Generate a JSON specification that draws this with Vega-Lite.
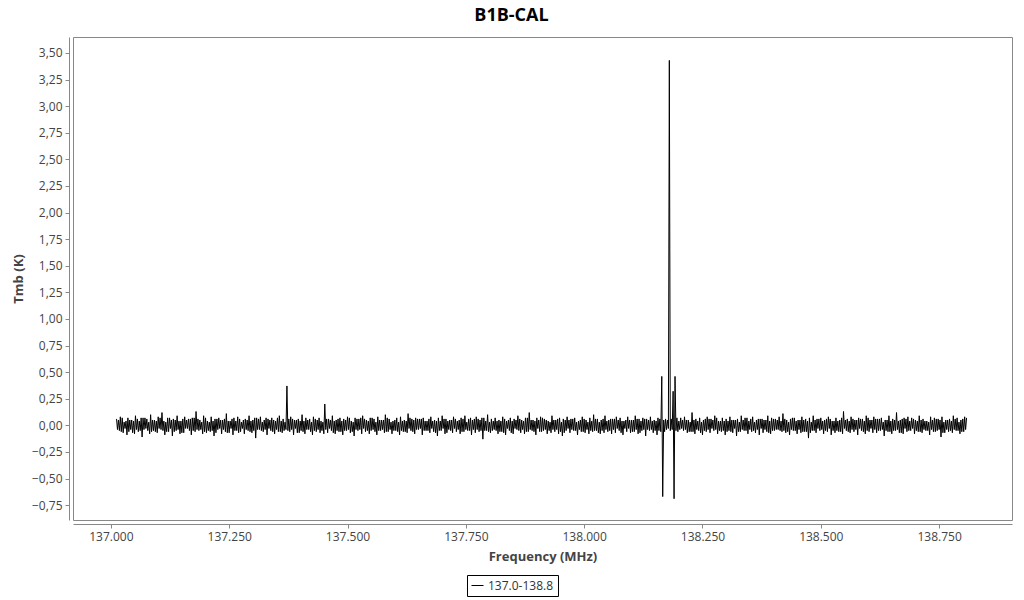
{
"$schema": "https://vega.github.io/schema/vega-lite/v6.json",
"width": 939, "height": 483,
"autosize": {"type": "none"},
"padding": {"left": 73, "top": 37, "right": 12, "bottom": 80},
"background": "white",
"title": {"text": "B1B-CAL", "fontSize": 18, "fontWeight": "bold", "font": "Open Sans", "color": "#000000", "dx": -31, "offset": 12},
"data": {"values": [
{"f":137.012,"t":0.06},{"f":137.014,"t":-0.04},{"f":137.016,"t":0.05},{"f":137.018,"t":-0.05},{"f":137.020,"t":0.08},{"f":137.022,"t":-0.06},{"f":137.024,"t":0.07},{"f":137.026,"t":-0.07},{"f":137.028,"t":0.03},{"f":137.030,"t":-0.03},{"f":137.032,"t":0.04},{"f":137.034,"t":-0.09},{"f":137.036,"t":0.07},{"f":137.038,"t":-0.06},{"f":137.040,"t":0.05},{"f":137.042,"t":-0.04},{"f":137.044,"t":0.05},{"f":137.046,"t":-0.07},{"f":137.048,"t":0.04},{"f":137.050,"t":-0.08},
{"f":137.052,"t":0.09},{"f":137.054,"t":-0.04},{"f":137.056,"t":0.06},{"f":137.058,"t":-0.06},{"f":137.060,"t":0.04},{"f":137.062,"t":-0.05},{"f":137.064,"t":0.07},{"f":137.066,"t":-0.11},{"f":137.068,"t":0.07},{"f":137.070,"t":-0.04},{"f":137.072,"t":0.07},{"f":137.074,"t":-0.03},{"f":137.076,"t":0.06},{"f":137.078,"t":-0.05},{"f":137.080,"t":0.03},{"f":137.082,"t":-0.08},{"f":137.084,"t":0.10},{"f":137.086,"t":-0.06},{"f":137.088,"t":0.05},{"f":137.090,"t":-0.05},
{"f":137.092,"t":0.05},{"f":137.094,"t":-0.06},{"f":137.096,"t":0.04},{"f":137.098,"t":-0.07},{"f":137.100,"t":0.08},{"f":137.102,"t":-0.03},{"f":137.104,"t":0.07},{"f":137.106,"t":-0.04},{"f":137.108,"t":0.12},{"f":137.110,"t":-0.05},{"f":137.112,"t":0.04},{"f":137.114,"t":-0.09},{"f":137.116,"t":0.03},{"f":137.118,"t":-0.06},{"f":137.120,"t":0.07},{"f":137.122,"t":-0.06},{"f":137.124,"t":0.07},{"f":137.126,"t":-0.03},{"f":137.128,"t":0.05},{"f":137.130,"t":-0.10},
{"f":137.132,"t":0.06},{"f":137.134,"t":-0.06},{"f":137.136,"t":0.05},{"f":137.138,"t":-0.05},{"f":137.140,"t":0.09},{"f":137.142,"t":-0.04},{"f":137.144,"t":0.04},{"f":137.146,"t":-0.08},{"f":137.148,"t":0.04},{"f":137.150,"t":-0.07},{"f":137.152,"t":0.06},{"f":137.154,"t":-0.07},{"f":137.156,"t":0.08},{"f":137.158,"t":-0.03},{"f":137.160,"t":0.05},{"f":137.162,"t":-0.03},{"f":137.164,"t":0.06},{"f":137.166,"t":-0.05},{"f":137.168,"t":0.06},{"f":137.170,"t":-0.09},
{"f":137.172,"t":0.07},{"f":137.174,"t":-0.05},{"f":137.176,"t":0.07},{"f":137.178,"t":-0.06},{"f":137.180,"t":0.13},{"f":137.182,"t":-0.04},{"f":137.184,"t":0.06},{"f":137.186,"t":-0.05},{"f":137.188,"t":0.05},{"f":137.190,"t":-0.04},{"f":137.192,"t":0.03},{"f":137.194,"t":-0.08},{"f":137.196,"t":0.09},{"f":137.198,"t":-0.06},{"f":137.200,"t":0.07},{"f":137.202,"t":-0.07},{"f":137.204,"t":0.04},{"f":137.206,"t":-0.05},{"f":137.208,"t":0.03},{"f":137.210,"t":-0.06},
{"f":137.212,"t":0.08},{"f":137.214,"t":-0.05},{"f":137.216,"t":0.04},{"f":137.218,"t":-0.10},{"f":137.220,"t":0.06},{"f":137.222,"t":-0.07},{"f":137.224,"t":0.06},{"f":137.226,"t":-0.04},{"f":137.228,"t":0.07},{"f":137.230,"t":-0.03},{"f":137.232,"t":0.05},{"f":137.234,"t":-0.08},{"f":137.236,"t":0.05},{"f":137.238,"t":-0.04},{"f":137.240,"t":0.06},{"f":137.242,"t":-0.06},{"f":137.244,"t":0.11},{"f":137.246,"t":-0.07},{"f":137.248,"t":0.04},{"f":137.250,"t":-0.07},
{"f":137.252,"t":0.04},{"f":137.254,"t":-0.03},{"f":137.256,"t":0.06},{"f":137.258,"t":-0.09},{"f":137.260,"t":0.07},{"f":137.262,"t":-0.05},{"f":137.264,"t":0.04},{"f":137.266,"t":-0.05},{"f":137.268,"t":0.08},{"f":137.270,"t":-0.07},{"f":137.272,"t":0.06},{"f":137.274,"t":-0.06},{"f":137.276,"t":0.03},{"f":137.278,"t":-0.03},{"f":137.280,"t":0.05},{"f":137.282,"t":-0.08},{"f":137.284,"t":0.06},{"f":137.286,"t":-0.04},{"f":137.288,"t":0.05},{"f":137.290,"t":-0.05},
{"f":137.292,"t":0.09},{"f":137.294,"t":-0.06},{"f":137.296,"t":0.04},{"f":137.298,"t":-0.07},{"f":137.300,"t":0.05},{"f":137.302,"t":-0.05},{"f":137.304,"t":0.07},{"f":137.306,"t":-0.12},{"f":137.308,"t":0.07},{"f":137.310,"t":-0.04},{"f":137.312,"t":0.06},{"f":137.314,"t":-0.04},{"f":137.316,"t":0.08},{"f":137.318,"t":-0.05},{"f":137.320,"t":0.03},{"f":137.322,"t":-0.06},{"f":137.324,"t":0.05},{"f":137.326,"t":-0.04},{"f":137.328,"t":0.07},{"f":137.330,"t":-0.09},
{"f":137.332,"t":0.06},{"f":137.334,"t":-0.03},{"f":137.336,"t":0.05},{"f":137.338,"t":-0.05},{"f":137.340,"t":0.07},{"f":137.342,"t":-0.06},{"f":137.344,"t":0.05},{"f":137.346,"t":-0.08},{"f":137.348,"t":0.04},{"f":137.350,"t":-0.04},{"f":137.352,"t":0.07},{"f":137.354,"t":-0.06},{"f":137.356,"t":0.09},{"f":137.358,"t":-0.06},{"f":137.360,"t":0.04},{"f":137.362,"t":-0.07},{"f":137.364,"t":0.06},{"f":137.366,"t":-0.05},{"f":137.368,"t":0.03},{"f":137.370,"t":-0.04},
{"f":137.372,"t":0.37},{"f":137.374,"t":-0.05},{"f":137.376,"t":0.06},{"f":137.378,"t":-0.06},{"f":137.380,"t":0.08},{"f":137.382,"t":-0.04},{"f":137.384,"t":0.06},{"f":137.386,"t":-0.09},{"f":137.388,"t":0.05},{"f":137.390,"t":-0.03},{"f":137.392,"t":0.05},{"f":137.394,"t":-0.07},{"f":137.396,"t":0.06},{"f":137.398,"t":-0.07},{"f":137.400,"t":0.04},{"f":137.402,"t":-0.05},{"f":137.404,"t":0.10},{"f":137.406,"t":-0.06},{"f":137.408,"t":0.04},{"f":137.410,"t":-0.08},
{"f":137.412,"t":0.07},{"f":137.414,"t":-0.04},{"f":137.416,"t":0.05},{"f":137.418,"t":-0.04},{"f":137.420,"t":0.06},{"f":137.422,"t":-0.06},{"f":137.424,"t":0.03},{"f":137.426,"t":-0.09},{"f":137.428,"t":0.08},{"f":137.430,"t":-0.05},{"f":137.432,"t":0.06},{"f":137.434,"t":-0.06},{"f":137.436,"t":0.05},{"f":137.438,"t":-0.04},{"f":137.440,"t":0.07},{"f":137.442,"t":-0.07},{"f":137.444,"t":0.04},{"f":137.446,"t":-0.05},{"f":137.448,"t":0.03},{"f":137.450,"t":-0.08},
{"f":137.452,"t":0.20},{"f":137.454,"t":-0.04},{"f":137.456,"t":0.06},{"f":137.458,"t":-0.07},{"f":137.460,"t":0.06},{"f":137.462,"t":-0.03},{"f":137.464,"t":0.05},{"f":137.466,"t":-0.05},{"f":137.468,"t":0.09},{"f":137.470,"t":-0.07},{"f":137.472,"t":0.04},{"f":137.474,"t":-0.08},{"f":137.476,"t":0.05},{"f":137.478,"t":-0.05},{"f":137.480,"t":0.06},{"f":137.482,"t":-0.06},{"f":137.484,"t":0.07},{"f":137.486,"t":-0.06},{"f":137.488,"t":0.04},{"f":137.490,"t":-0.09},
{"f":137.492,"t":0.06},{"f":137.494,"t":-0.05},{"f":137.496,"t":0.05},{"f":137.498,"t":-0.05},{"f":137.500,"t":0.08},{"f":137.502,"t":-0.04},{"f":137.504,"t":0.07},{"f":137.506,"t":-0.07},{"f":137.508,"t":0.04},{"f":137.510,"t":-0.06},{"f":137.512,"t":0.03},{"f":137.514,"t":-0.10},{"f":137.516,"t":0.07},{"f":137.518,"t":-0.04},{"f":137.520,"t":0.06},{"f":137.522,"t":-0.05},{"f":137.524,"t":0.06},{"f":137.526,"t":-0.04},{"f":137.528,"t":0.07},{"f":137.530,"t":-0.08},
{"f":137.532,"t":0.09},{"f":137.534,"t":-0.03},{"f":137.536,"t":0.06},{"f":137.538,"t":-0.06},{"f":137.540,"t":0.05},{"f":137.542,"t":-0.05},{"f":137.544,"t":0.04},{"f":137.546,"t":-0.08},{"f":137.548,"t":0.07},{"f":137.550,"t":-0.05},{"f":137.552,"t":0.07},{"f":137.554,"t":-0.04},{"f":137.556,"t":0.06},{"f":137.558,"t":-0.06},{"f":137.560,"t":0.03},{"f":137.562,"t":-0.09},{"f":137.564,"t":0.08},{"f":137.566,"t":-0.05},{"f":137.568,"t":0.05},{"f":137.570,"t":-0.05},
{"f":137.572,"t":0.05},{"f":137.574,"t":-0.04},{"f":137.576,"t":0.05},{"f":137.578,"t":-0.07},{"f":137.580,"t":0.10},{"f":137.582,"t":-0.06},{"f":137.584,"t":0.07},{"f":137.586,"t":-0.06},{"f":137.588,"t":0.06},{"f":137.590,"t":-0.04},{"f":137.592,"t":0.03},{"f":137.594,"t":-0.08},{"f":137.596,"t":0.04},{"f":137.598,"t":-0.05},{"f":137.600,"t":0.05},{"f":137.602,"t":-0.05},{"f":137.604,"t":0.07},{"f":137.606,"t":-0.06},{"f":137.608,"t":0.03},{"f":137.610,"t":-0.09},
{"f":137.612,"t":0.08},{"f":137.614,"t":-0.05},{"f":137.616,"t":0.04},{"f":137.618,"t":-0.06},{"f":137.620,"t":0.05},{"f":137.622,"t":-0.06},{"f":137.624,"t":0.04},{"f":137.626,"t":-0.07},{"f":137.628,"t":0.11},{"f":137.630,"t":-0.03},{"f":137.632,"t":0.07},{"f":137.634,"t":-0.05},{"f":137.636,"t":0.06},{"f":137.638,"t":-0.06},{"f":137.640,"t":0.05},{"f":137.642,"t":-0.08},{"f":137.644,"t":0.07},{"f":137.646,"t":-0.04},{"f":137.648,"t":0.06},{"f":137.650,"t":-0.04},
{"f":137.652,"t":0.06},{"f":137.654,"t":-0.03},{"f":137.656,"t":0.06},{"f":137.658,"t":-0.09},{"f":137.660,"t":0.07},{"f":137.662,"t":-0.05},{"f":137.664,"t":0.04},{"f":137.666,"t":-0.05},{"f":137.668,"t":0.04},{"f":137.670,"t":-0.05},{"f":137.672,"t":0.06},{"f":137.674,"t":-0.07},{"f":137.676,"t":0.08},{"f":137.678,"t":-0.03},{"f":137.680,"t":0.04},{"f":137.682,"t":-0.06},{"f":137.684,"t":0.05},{"f":137.686,"t":-0.07},{"f":137.688,"t":0.04},{"f":137.690,"t":-0.10},
{"f":137.692,"t":0.07},{"f":137.694,"t":-0.05},{"f":137.696,"t":0.04},{"f":137.698,"t":-0.05},{"f":137.700,"t":0.09},{"f":137.702,"t":-0.03},{"f":137.704,"t":0.06},{"f":137.706,"t":-0.08},{"f":137.708,"t":0.06},{"f":137.710,"t":-0.07},{"f":137.712,"t":0.04},{"f":137.714,"t":-0.04},{"f":137.716,"t":0.05},{"f":137.718,"t":-0.05},{"f":137.720,"t":0.05},{"f":137.722,"t":-0.07},{"f":137.724,"t":0.08},{"f":137.726,"t":-0.03},{"f":137.728,"t":0.06},{"f":137.730,"t":-0.06},
{"f":137.732,"t":0.04},{"f":137.734,"t":-0.04},{"f":137.736,"t":0.05},{"f":137.738,"t":-0.08},{"f":137.740,"t":0.07},{"f":137.742,"t":-0.06},{"f":137.744,"t":0.06},{"f":137.746,"t":-0.06},{"f":137.748,"t":0.09},{"f":137.750,"t":-0.04},{"f":137.752,"t":0.03},{"f":137.754,"t":-0.05},{"f":137.756,"t":0.06},{"f":137.758,"t":-0.05},{"f":137.760,"t":0.07},{"f":137.762,"t":-0.09},{"f":137.764,"t":0.05},{"f":137.766,"t":-0.04},{"f":137.768,"t":0.06},{"f":137.770,"t":-0.07},
{"f":137.772,"t":0.08},{"f":137.774,"t":-0.04},{"f":137.776,"t":0.06},{"f":137.778,"t":-0.06},{"f":137.780,"t":0.05},{"f":137.782,"t":-0.05},{"f":137.784,"t":0.07},{"f":137.786,"t":-0.13},{"f":137.788,"t":0.07},{"f":137.790,"t":-0.05},{"f":137.792,"t":0.04},{"f":137.794,"t":-0.05},{"f":137.796,"t":0.10},{"f":137.798,"t":-0.06},{"f":137.800,"t":0.03},{"f":137.802,"t":-0.07},{"f":137.804,"t":0.06},{"f":137.806,"t":-0.05},{"f":137.808,"t":0.04},{"f":137.810,"t":-0.04},
{"f":137.812,"t":0.07},{"f":137.814,"t":-0.05},{"f":137.816,"t":0.04},{"f":137.818,"t":-0.08},{"f":137.820,"t":0.05},{"f":137.822,"t":-0.06},{"f":137.824,"t":0.04},{"f":137.826,"t":-0.06},{"f":137.828,"t":0.08},{"f":137.830,"t":-0.07},{"f":137.832,"t":0.06},{"f":137.834,"t":-0.09},{"f":137.836,"t":0.04},{"f":137.838,"t":-0.03},{"f":137.840,"t":0.05},{"f":137.842,"t":-0.05},{"f":137.844,"t":0.07},{"f":137.846,"t":-0.07},{"f":137.848,"t":0.04},{"f":137.850,"t":-0.08},
{"f":137.852,"t":0.06},{"f":137.854,"t":-0.03},{"f":137.856,"t":0.05},{"f":137.858,"t":-0.04},{"f":137.860,"t":0.09},{"f":137.862,"t":-0.05},{"f":137.864,"t":0.06},{"f":137.866,"t":-0.07},{"f":137.868,"t":0.05},{"f":137.870,"t":-0.04},{"f":137.872,"t":0.04},{"f":137.874,"t":-0.08},{"f":137.876,"t":0.07},{"f":137.878,"t":-0.06},{"f":137.880,"t":0.07},{"f":137.882,"t":-0.06},{"f":137.884,"t":0.12},{"f":137.886,"t":-0.04},{"f":137.888,"t":0.05},{"f":137.890,"t":-0.05},
{"f":137.892,"t":0.05},{"f":137.894,"t":-0.06},{"f":137.896,"t":0.04},{"f":137.898,"t":-0.09},{"f":137.900,"t":0.07},{"f":137.902,"t":-0.03},{"f":137.904,"t":0.05},{"f":137.906,"t":-0.06},{"f":137.908,"t":0.08},{"f":137.910,"t":-0.06},{"f":137.912,"t":0.07},{"f":137.914,"t":-0.05},{"f":137.916,"t":0.06},{"f":137.918,"t":-0.04},{"f":137.920,"t":0.05},{"f":137.922,"t":-0.08},{"f":137.924,"t":0.04},{"f":137.926,"t":-0.05},{"f":137.928,"t":0.03},{"f":137.930,"t":-0.07},
{"f":137.932,"t":0.09},{"f":137.934,"t":-0.04},{"f":137.936,"t":0.05},{"f":137.938,"t":-0.06},{"f":137.940,"t":0.05},{"f":137.942,"t":-0.04},{"f":137.944,"t":0.06},{"f":137.946,"t":-0.08},{"f":137.948,"t":0.07},{"f":137.950,"t":-0.06},{"f":137.952,"t":0.03},{"f":137.954,"t":-0.10},{"f":137.956,"t":0.06},{"f":137.958,"t":-0.07},{"f":137.960,"t":0.05},{"f":137.962,"t":-0.05},{"f":137.964,"t":0.08},{"f":137.966,"t":-0.03},{"f":137.968,"t":0.05},{"f":137.970,"t":-0.07},
{"f":137.972,"t":0.06},{"f":137.974,"t":-0.04},{"f":137.976,"t":0.06},{"f":137.978,"t":-0.05},{"f":137.980,"t":0.07},{"f":137.982,"t":-0.05},{"f":137.984,"t":0.03},{"f":137.986,"t":-0.09},{"f":137.988,"t":0.04},{"f":137.990,"t":-0.04},{"f":137.992,"t":0.05},{"f":137.994,"t":-0.06},{"f":137.996,"t":0.08},{"f":137.998,"t":-0.06},{"f":138.000,"t":0.06},{"f":138.002,"t":-0.07},{"f":138.004,"t":0.05},{"f":138.006,"t":-0.04},{"f":138.008,"t":0.03},{"f":138.010,"t":-0.08},
{"f":138.012,"t":0.07},{"f":138.014,"t":-0.05},{"f":138.016,"t":0.04},{"f":138.018,"t":-0.06},{"f":138.020,"t":0.10},{"f":138.022,"t":-0.05},{"f":138.024,"t":0.06},{"f":138.026,"t":-0.05},{"f":138.028,"t":0.06},{"f":138.030,"t":-0.07},{"f":138.032,"t":0.03},{"f":138.034,"t":-0.08},{"f":138.036,"t":0.05},{"f":138.038,"t":-0.05},{"f":138.040,"t":0.06},{"f":138.042,"t":-0.07},{"f":138.044,"t":0.09},{"f":138.046,"t":-0.04},{"f":138.048,"t":0.04},{"f":138.050,"t":-0.06},
{"f":138.052,"t":0.05},{"f":138.054,"t":-0.05},{"f":138.056,"t":0.06},{"f":138.058,"t":-0.08},{"f":138.060,"t":0.06},{"f":138.062,"t":-0.04},{"f":138.064,"t":0.06},{"f":138.066,"t":-0.07},{"f":138.068,"t":0.08},{"f":138.070,"t":-0.03},{"f":138.072,"t":0.05},{"f":138.074,"t":-0.05},{"f":138.076,"t":0.07},{"f":138.078,"t":-0.07},{"f":138.080,"t":0.04},{"f":138.082,"t":-0.09},{"f":138.084,"t":0.04},{"f":138.086,"t":-0.03},{"f":138.088,"t":0.05},{"f":138.090,"t":-0.06},
{"f":138.092,"t":0.08},{"f":138.094,"t":-0.03},{"f":138.096,"t":0.05},{"f":138.098,"t":-0.07},{"f":138.100,"t":0.05},{"f":138.102,"t":-0.06},{"f":138.104,"t":0.05},{"f":138.106,"t":-0.06},{"f":138.108,"t":0.09},{"f":138.110,"t":-0.04},{"f":138.112,"t":0.06},{"f":138.114,"t":-0.08},{"f":138.116,"t":0.06},{"f":138.118,"t":-0.07},{"f":138.120,"t":0.04},{"f":138.122,"t":-0.05},{"f":138.124,"t":0.07},{"f":138.126,"t":-0.04},{"f":138.128,"t":0.06},{"f":138.130,"t":-0.10},
{"f":138.132,"t":0.06},{"f":138.134,"t":-0.04},{"f":138.136,"t":0.05},{"f":138.138,"t":-0.05},{"f":138.140,"t":0.08},{"f":138.142,"t":-0.04},{"f":138.144,"t":0.04},{"f":138.146,"t":-0.07},{"f":138.148,"t":0.05},{"f":138.150,"t":-0.05},{"f":138.152,"t":0.04},{"f":138.154,"t":-0.09},{"f":138.156,"t":0.07},{"f":138.158,"t":-0.05},{"f":138.160,"t":0.06},{"f":138.162,"t":-0.06},{"f":138.164,"t":0.46},{"f":138.166,"t":-0.67},{"f":138.168,"t":0.05},{"f":138.170,"t":-0.06},
{"f":138.172,"t":0.06},{"f":138.174,"t":-0.04},{"f":138.176,"t":0.05},{"f":138.178,"t":-0.03},{"f":138.180,"t":3.43},{"f":138.182,"t":-0.05},{"f":138.184,"t":0.06},{"f":138.186,"t":-0.04},{"f":138.188,"t":0.32},{"f":138.190,"t":-0.69},{"f":138.192,"t":0.46},{"f":138.194,"t":-0.05},{"f":138.196,"t":0.07},{"f":138.198,"t":-0.06},{"f":138.200,"t":0.04},{"f":138.202,"t":-0.04},{"f":138.204,"t":0.07},{"f":138.206,"t":-0.03},{"f":138.208,"t":0.05},{"f":138.210,"t":-0.05},
{"f":138.212,"t":0.08},{"f":138.214,"t":-0.04},{"f":138.216,"t":0.05},{"f":138.218,"t":-0.07},{"f":138.220,"t":0.05},{"f":138.222,"t":-0.06},{"f":138.224,"t":0.03},{"f":138.226,"t":-0.06},{"f":138.228,"t":0.12},{"f":138.230,"t":-0.06},{"f":138.232,"t":0.05},{"f":138.234,"t":-0.08},{"f":138.236,"t":0.06},{"f":138.238,"t":-0.04},{"f":138.240,"t":0.04},{"f":138.242,"t":-0.05},{"f":138.244,"t":0.07},{"f":138.246,"t":-0.07},{"f":138.248,"t":0.03},{"f":138.250,"t":-0.09},
{"f":138.252,"t":0.05},{"f":138.254,"t":-0.05},{"f":138.256,"t":0.06},{"f":138.258,"t":-0.06},{"f":138.260,"t":0.08},{"f":138.262,"t":-0.04},{"f":138.264,"t":0.06},{"f":138.266,"t":-0.07},{"f":138.268,"t":0.06},{"f":138.270,"t":-0.03},{"f":138.272,"t":0.05},{"f":138.274,"t":-0.05},{"f":138.276,"t":0.09},{"f":138.278,"t":-0.04},{"f":138.280,"t":0.07},{"f":138.282,"t":-0.08},{"f":138.284,"t":0.04},{"f":138.286,"t":-0.05},{"f":138.288,"t":0.04},{"f":138.290,"t":-0.06},
{"f":138.292,"t":0.07},{"f":138.294,"t":-0.05},{"f":138.296,"t":0.04},{"f":138.298,"t":-0.09},{"f":138.300,"t":0.06},{"f":138.302,"t":-0.06},{"f":138.304,"t":0.04},{"f":138.306,"t":-0.05},{"f":138.308,"t":0.08},{"f":138.310,"t":-0.06},{"f":138.312,"t":0.05},{"f":138.314,"t":-0.07},{"f":138.316,"t":0.05},{"f":138.318,"t":-0.03},{"f":138.320,"t":0.05},{"f":138.322,"t":-0.10},{"f":138.324,"t":0.06},{"f":138.326,"t":-0.06},{"f":138.328,"t":0.03},{"f":138.330,"t":-0.06},
{"f":138.332,"t":0.09},{"f":138.334,"t":-0.04},{"f":138.336,"t":0.05},{"f":138.338,"t":-0.05},{"f":138.340,"t":0.07},{"f":138.342,"t":-0.05},{"f":138.344,"t":0.07},{"f":138.346,"t":-0.08},{"f":138.348,"t":0.04},{"f":138.350,"t":-0.04},{"f":138.352,"t":0.06},{"f":138.354,"t":-0.06},{"f":138.356,"t":0.08},{"f":138.358,"t":-0.05},{"f":138.360,"t":0.03},{"f":138.362,"t":-0.07},{"f":138.364,"t":0.05},{"f":138.366,"t":-0.04},{"f":138.368,"t":0.06},{"f":138.370,"t":-0.09},
{"f":138.372,"t":0.06},{"f":138.374,"t":-0.03},{"f":138.376,"t":0.06},{"f":138.378,"t":-0.07},{"f":138.380,"t":0.05},{"f":138.382,"t":-0.04},{"f":138.384,"t":0.05},{"f":138.386,"t":-0.06},{"f":138.388,"t":0.09},{"f":138.390,"t":-0.07},{"f":138.392,"t":0.04},{"f":138.394,"t":-0.08},{"f":138.396,"t":0.07},{"f":138.398,"t":-0.05},{"f":138.400,"t":0.06},{"f":138.402,"t":-0.05},{"f":138.404,"t":0.06},{"f":138.406,"t":-0.04},{"f":138.408,"t":0.05},{"f":138.410,"t":-0.04},
{"f":138.412,"t":0.08},{"f":138.414,"t":-0.05},{"f":138.416,"t":0.04},{"f":138.418,"t":-0.06},{"f":138.420,"t":0.11},{"f":138.422,"t":-0.05},{"f":138.424,"t":0.06},{"f":138.426,"t":-0.07},{"f":138.428,"t":0.05},{"f":138.430,"t":-0.06},{"f":138.432,"t":0.03},{"f":138.434,"t":-0.09},{"f":138.436,"t":0.06},{"f":138.438,"t":-0.04},{"f":138.440,"t":0.07},{"f":138.442,"t":-0.05},{"f":138.444,"t":0.07},{"f":138.446,"t":-0.05},{"f":138.448,"t":0.04},{"f":138.450,"t":-0.08},
{"f":138.452,"t":0.05},{"f":138.454,"t":-0.04},{"f":138.456,"t":0.05},{"f":138.458,"t":-0.07},{"f":138.460,"t":0.08},{"f":138.462,"t":-0.06},{"f":138.464,"t":0.05},{"f":138.466,"t":-0.06},{"f":138.468,"t":0.06},{"f":138.470,"t":-0.06},{"f":138.472,"t":0.04},{"f":138.474,"t":-0.12},{"f":138.476,"t":0.07},{"f":138.478,"t":-0.07},{"f":138.480,"t":0.03},{"f":138.482,"t":-0.05},{"f":138.484,"t":0.09},{"f":138.486,"t":-0.05},{"f":138.488,"t":0.05},{"f":138.490,"t":-0.07},
{"f":138.492,"t":0.06},{"f":138.494,"t":-0.03},{"f":138.496,"t":0.06},{"f":138.498,"t":-0.05},{"f":138.500,"t":0.07},{"f":138.502,"t":-0.04},{"f":138.504,"t":0.04},{"f":138.506,"t":-0.08},{"f":138.508,"t":0.05},{"f":138.510,"t":-0.05},{"f":138.512,"t":0.06},{"f":138.514,"t":-0.06},{"f":138.516,"t":0.08},{"f":138.518,"t":-0.03},{"f":138.520,"t":0.06},{"f":138.522,"t":-0.09},{"f":138.524,"t":0.04},{"f":138.526,"t":-0.05},{"f":138.528,"t":0.04},{"f":138.530,"t":-0.07},
{"f":138.532,"t":0.07},{"f":138.534,"t":-0.05},{"f":138.536,"t":0.04},{"f":138.538,"t":-0.06},{"f":138.540,"t":0.05},{"f":138.542,"t":-0.06},{"f":138.544,"t":0.07},{"f":138.546,"t":-0.08},{"f":138.548,"t":0.13},{"f":138.550,"t":-0.03},{"f":138.552,"t":0.05},{"f":138.554,"t":-0.05},{"f":138.556,"t":0.06},{"f":138.558,"t":-0.06},{"f":138.560,"t":0.04},{"f":138.562,"t":-0.07},{"f":138.564,"t":0.08},{"f":138.566,"t":-0.04},{"f":138.568,"t":0.06},{"f":138.570,"t":-0.06},
{"f":138.572,"t":0.05},{"f":138.574,"t":-0.04},{"f":138.576,"t":0.05},{"f":138.578,"t":-0.09},{"f":138.580,"t":0.07},{"f":138.582,"t":-0.03},{"f":138.584,"t":0.06},{"f":138.586,"t":-0.05},{"f":138.588,"t":0.06},{"f":138.590,"t":-0.06},{"f":138.592,"t":0.04},{"f":138.594,"t":-0.08},{"f":138.596,"t":0.09},{"f":138.598,"t":-0.05},{"f":138.600,"t":0.07},{"f":138.602,"t":-0.06},{"f":138.604,"t":0.05},{"f":138.606,"t":-0.03},{"f":138.608,"t":0.05},{"f":138.610,"t":-0.07},
{"f":138.612,"t":0.08},{"f":138.614,"t":-0.04},{"f":138.616,"t":0.06},{"f":138.618,"t":-0.07},{"f":138.620,"t":0.06},{"f":138.622,"t":-0.05},{"f":138.624,"t":0.06},{"f":138.626,"t":-0.05},{"f":138.628,"t":0.07},{"f":138.630,"t":-0.04},{"f":138.632,"t":0.03},{"f":138.634,"t":-0.10},{"f":138.636,"t":0.05},{"f":138.638,"t":-0.05},{"f":138.640,"t":0.05},{"f":138.642,"t":-0.06},{"f":138.644,"t":0.09},{"f":138.646,"t":-0.06},{"f":138.648,"t":0.04},{"f":138.650,"t":-0.08},
{"f":138.652,"t":0.06},{"f":138.654,"t":-0.05},{"f":138.656,"t":0.05},{"f":138.658,"t":-0.05},{"f":138.660,"t":0.12},{"f":138.662,"t":-0.04},{"f":138.664,"t":0.04},{"f":138.666,"t":-0.07},{"f":138.668,"t":0.05},{"f":138.670,"t":-0.07},{"f":138.672,"t":0.06},{"f":138.674,"t":-0.08},{"f":138.676,"t":0.07},{"f":138.678,"t":-0.03},{"f":138.680,"t":0.06},{"f":138.682,"t":-0.06},{"f":138.684,"t":0.08},{"f":138.686,"t":-0.05},{"f":138.688,"t":0.04},{"f":138.690,"t":-0.05},
{"f":138.692,"t":0.07},{"f":138.694,"t":-0.03},{"f":138.696,"t":0.06},{"f":138.698,"t":-0.08},{"f":138.700,"t":0.05},{"f":138.702,"t":-0.05},{"f":138.704,"t":0.04},{"f":138.706,"t":-0.06},{"f":138.708,"t":0.09},{"f":138.710,"t":-0.06},{"f":138.712,"t":0.05},{"f":138.714,"t":-0.07},{"f":138.716,"t":0.06},{"f":138.718,"t":-0.04},{"f":138.720,"t":0.04},{"f":138.722,"t":-0.05},{"f":138.724,"t":0.04},{"f":138.726,"t":-0.05},{"f":138.728,"t":0.03},{"f":138.730,"t":-0.09},
{"f":138.732,"t":0.08},{"f":138.734,"t":-0.04},{"f":138.736,"t":0.05},{"f":138.738,"t":-0.06},{"f":138.740,"t":0.07},{"f":138.742,"t":-0.06},{"f":138.744,"t":0.06},{"f":138.746,"t":-0.05},{"f":138.748,"t":0.06},{"f":138.750,"t":-0.04},{"f":138.752,"t":0.05},{"f":138.754,"t":-0.11},{"f":138.756,"t":0.08},{"f":138.758,"t":-0.07},{"f":138.760,"t":0.03},{"f":138.762,"t":-0.07},{"f":138.764,"t":0.05},{"f":138.766,"t":-0.04},{"f":138.768,"t":0.05},{"f":138.770,"t":-0.06},
{"f":138.772,"t":0.06},{"f":138.774,"t":-0.05},{"f":138.776,"t":0.04},{"f":138.778,"t":-0.07},{"f":138.780,"t":0.09},{"f":138.782,"t":-0.04},{"f":138.784,"t":0.06},{"f":138.786,"t":-0.05},{"f":138.788,"t":0.07},{"f":138.790,"t":-0.05},{"f":138.792,"t":0.03},{"f":138.794,"t":-0.08},{"f":138.796,"t":0.05},{"f":138.798,"t":-0.06},{"f":138.800,"t":0.06},{"f":138.802,"t":-0.06},{"f":138.804,"t":0.08},{"f":138.806,"t":-0.04},{"f":138.808,"t":0.07}
]},
"mark": {"type": "line", "strokeWidth": 1, "interpolate": "linear"},
"encoding": {
  "x": {"field": "f", "type": "quantitative",
    "scale": {"domain": [136.92, 138.904], "nice": false, "zero": false},
    "axis": {"title": "Frequency (MHz)", "values": [137, 137.25, 137.5, 137.75, 138, 138.25, 138.5, 138.75], "format": ".3f", "offset": 4, "titlePadding": 8}},
  "y": {"field": "t", "type": "quantitative",
    "scale": {"domain": [-0.89, 3.65], "nice": false, "zero": false},
    "axis": {"title": "Tmb (K)", "values": [-0.75, -0.5, -0.25, 0, 0.25, 0.5, 0.75, 1, 1.25, 1.5, 1.75, 2, 2.25, 2.5, 2.75, 3, 3.25, 3.5], "labelExpr": "replace(format(datum.value, '.2f'), '.', ',')", "offset": 4, "titlePadding": 6}},
  "color": {"datum": "137.0-138.8", "type": "nominal", "scale": {"range": ["#000000"]},
    "legend": {"title": null, "orient": "none", "legendX": 394, "legendY": 538, "strokeColor": "#000000", "padding": 4, "symbolType": "stroke", "symbolSize": 144, "symbolStrokeWidth": 1, "labelFont": "Open Sans", "labelFontSize": 12, "labelColor": "#333333", "labelOffset": 4}}
},
"config": {
  "view": {"stroke": "#888888", "strokeWidth": 1},
  "axis": {"grid": false, "labelFont": "Open Sans", "labelFontSize": 12, "labelColor": "#444444", "titleFont": "Open Sans", "titleFontSize": 13, "titleFontWeight": "bold", "titleColor": "#444444", "domainColor": "#888888", "tickColor": "#888888", "tickSize": 4, "labelPadding": 3}
}
}
